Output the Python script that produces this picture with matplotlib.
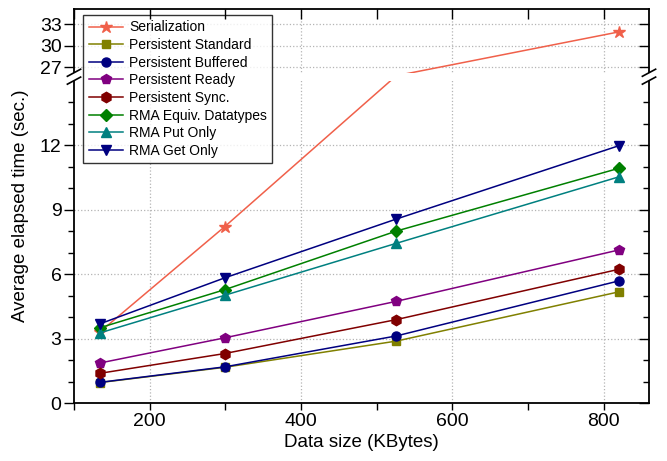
import numpy as np
import matplotlib
matplotlib.use("Agg")
import matplotlib.pyplot as plt
from matplotlib.patches import Rectangle

plt.rcParams["font.family"] = ["Liberation Sans", "DejaVu Sans"]

sizes = [134, 299, 526, 820]
serialization = [3.3, 8.2, 22.0, 31.9]
persistent_standard = [0.95, 1.66, 2.88, 5.17]
persistent_buffered = [0.96, 1.68, 3.12, 5.68]
persistent_ready = [1.86, 3.03, 4.73, 7.12]
persistent_sync = [1.38, 2.3, 3.88, 6.22]
rma_equiv = [3.5, 5.27, 8.0, 10.92]
rma_put = [3.26, 5.01, 7.43, 10.52]
rma_get = [3.68, 5.82, 8.56, 11.97]

# broken y axis: 0-15 (3x scale), gap, 26.2-35.1
LOW_TOP, UP_BOT, Y_TOP = 15.0, 26.2, 35.1
GAP = 1.1


def fwd(y):
    y = np.asarray(y, float)
    return np.where(y <= LOW_TOP, 3 * y,
                    np.where(y >= UP_BOT, y - UP_BOT + 3 * LOW_TOP + GAP,
                             3 * LOW_TOP + (y - LOW_TOP) * GAP / (UP_BOT - LOW_TOP)))


def inv(v):
    v = np.asarray(v, float)
    return np.where(v <= 3 * LOW_TOP, v / 3,
                    np.where(v >= 3 * LOW_TOP + GAP, v - 3 * LOW_TOP - GAP + UP_BOT,
                             LOW_TOP + (v - 3 * LOW_TOP) * (UP_BOT - LOW_TOP) / GAP))


series = [
    ("Serialization", serialization, "#F0604A", "*", 9),
    ("Persistent Standard", persistent_standard, "#808000", "s", 6),
    ("Persistent Buffered", persistent_buffered, "#000080", "o", 6.5),
    ("Persistent Ready", persistent_ready, "#800080", "p", 7.5),
    ("Persistent Sync.", persistent_sync, "#800000", "h", 7.5),
    ("RMA Equiv. Datatypes", rma_equiv, "#008000", "D", 6),
    ("RMA Put Only", rma_put, "#008080", "^", 7),
    ("RMA Get Only", rma_get, "#000080", "v", 7),
]

fig = plt.figure(figsize=(6.67, 4.61), dpi=100)
ax = fig.add_axes([74 / 667, 1 - 403 / 461, 575 / 667, 394 / 461])
ax.set_yscale("function", functions=(fwd, inv))

for label, vals, color, marker, ms in series:
    # hide markers that fall inside the axis break
    shown = [i for i, v in enumerate(vals) if not (LOW_TOP < v < UP_BOT)]
    ax.plot(sizes, vals, color=color, marker=marker, markersize=ms, lw=1.1,
            markevery=shown, label=label)

ax.set_xlim(100, 860)
ax.set_ylim(0, Y_TOP)

yticks = [0, 3, 6, 9, 12, 27, 30, 33]
yminor = [1, 2, 4, 5, 7, 8, 10, 11, 13, 14]
xticks = [200, 400, 600, 800]
xminor = [100, 300, 500, 700]

ax.set_yticks(yticks)
ax.set_yticks(yminor, minor=True)
ax.set_xticks(xticks)
ax.set_xticks(xminor, minor=True)
ax.tick_params(axis="both", which="major", direction="out", length=7, width=1, labelsize=14, pad=2)
ax.tick_params(axis="both", which="minor", direction="out", length=4.5, width=1)
ax.tick_params(axis="x", which="both", length=5)
ax.grid(True, which="major", ls=":", color="#b4b4b4", lw=0.9)
ax.set_axisbelow(True)
for s in ax.spines.values():
    s.set_linewidth(1.3)

# right and top ticks point inward
ax_r = ax.twinx()
ax_r.set_yscale("function", functions=(fwd, inv))
ax_r.set_ylim(0, Y_TOP)
ax_r.set_yticks(yticks)
ax_r.set_yticks(yminor, minor=True)
ax_r.tick_params(axis="y", which="major", direction="in", length=7, width=1, labelright=False)
ax_r.tick_params(axis="y", which="minor", direction="in", length=4.5, width=1)
ax_t = ax.twiny()
ax_t.set_xlim(100, 860)
ax_t.set_xticks(xticks)
ax_t.set_xticks(xminor, minor=True)
ax_t.tick_params(axis="x", which="both", direction="in", length=7, width=1, labeltop=False)
for a in (ax_r, ax_t):
    for s in a.spines.values():
        s.set_visible(False)

# white out the break band and draw the break marks
ax.add_patch(Rectangle((-0.03, LOW_TOP), 1.06, UP_BOT - LOW_TOP, transform=ax.get_yaxis_transform(),
                       facecolor="white", edgecolor="none", zorder=3, clip_on=False))
y_lo = float(fwd(LOW_TOP) / fwd(Y_TOP))
y_hi = float(fwd(UP_BOT) / fwd(Y_TOP))
dx, dy = 0.0115, 0.009
for xb in (0, 1):
    for yb in (y_lo, y_hi):
        ax.plot([xb - dx, xb + dx], [yb - dy, yb + dy], color="k", lw=1.2,
                transform=ax.transAxes, clip_on=False, zorder=4)

ax.set_xlabel("Data size (KBytes)", fontsize=13.5, labelpad=3)
ax.set_ylabel("Average elapsed time (sec.)", fontsize=13.5, labelpad=8)

leg = ax.legend(loc="upper left", bbox_to_anchor=(0.016, 0.985), borderaxespad=0,
                fontsize=10, frameon=True, fancybox=False, handlelength=2.5,
                labelspacing=0.26, borderpad=0.4, handletextpad=0.4)
leg.get_frame().set_edgecolor("black")
leg.get_frame().set_linewidth(1.0)
leg.set_zorder(6)

fig.savefig("out.png", dpi=100)
